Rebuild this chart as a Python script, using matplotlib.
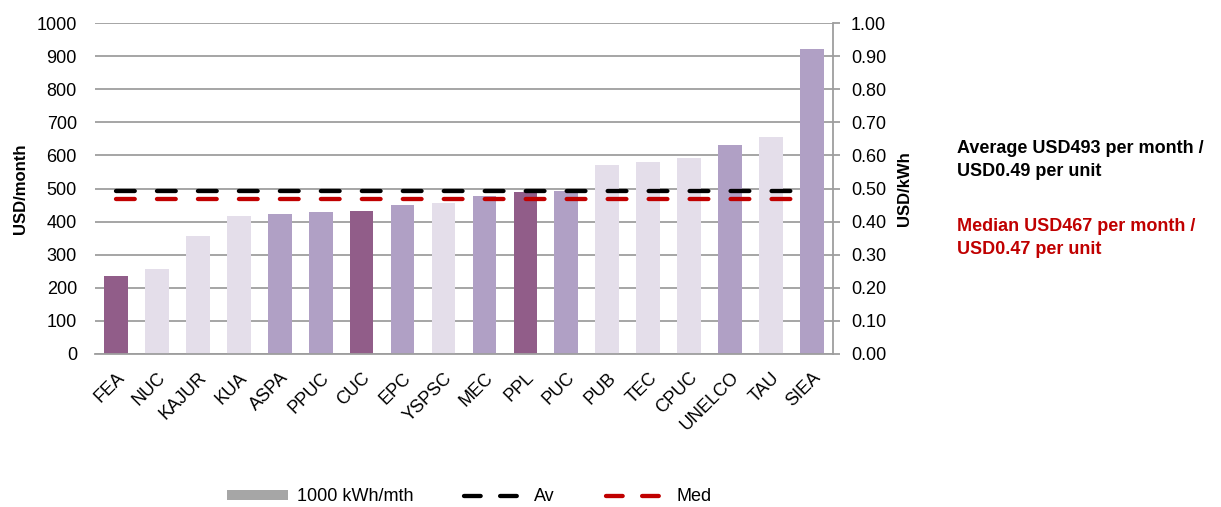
import matplotlib
matplotlib.use('agg')
import matplotlib.pyplot as plt
from matplotlib.patches import Patch
from matplotlib.lines import Line2D
import numpy as np

plt.rcParams['font.family'] = ['Liberation Sans Narrow', 'Liberation Sans', 'DejaVu Sans']
plt.rcParams['lines.scale_dashes'] = False

utilities = ['FEA', 'NUC', 'KAJUR', 'KUA', 'ASPA', 'PPUC', 'CUC', 'EPC', 'YSPSC',
             'MEC', 'PPL', 'PUC', 'PUB', 'TEC', 'CPUC', 'UNELCO', 'TAU', 'SIEA']
monthlyBill = [236, 258, 356, 417, 423, 429, 432, 450, 457,
               477, 489, 493, 571, 580, 592, 632, 656, 921]
# colour group of each utility (0 dark, 1 medium, 2 light)
shade = [0, 2, 2, 2, 1, 1, 0, 1, 2, 1, 0, 1, 2, 2, 2, 1, 2, 1]
avBill = 493
medBill = 467

shadeColors = ['#915D89', '#B0A0C5', '#E4DEEA']
gridGray = '#9E9E9E'

fig = plt.figure(figsize=(12.21, 5.07), dpi=100)
ax1 = fig.add_axes([0.0778, 0.3018, 0.6044, 0.6528])

x = np.arange(len(utilities))
ax1.bar(x, monthlyBill, width=0.58, color=[shadeColors[s] for s in shade], zorder=2)

avLine, = ax1.plot(x, [avBill] * len(x), color='black', lw=3.1,
                   ls=(0, (13.5, 16.0)), dash_capstyle='round', zorder=3)
medLine, = ax1.plot(x, [medBill] * len(x), color='#C00000', lw=3.1,
                    ls=(0, (13.5, 16.0)), dash_capstyle='round', zorder=3)

ax1.set_xlim(-0.51, 17.51)
ax1.set_ylim(0, 1000)
ax1.set_yticks(np.arange(0, 1001, 100))
ax1.yaxis.grid(True, color=gridGray, lw=1.3, zorder=0)
ax1.set_axisbelow(True)
ax1.tick_params(axis='y', length=0, labelsize=13, pad=13)
ax1.tick_params(axis='x', length=0, labelsize=13, pad=11)
ax1.set_xticks(x)
ax1.set_xticklabels(utilities, rotation=45, ha='right', rotation_mode='anchor')
ax1.set_ylabel('USD/month', fontsize=12, fontweight='bold', labelpad=6)

for side in ['top', 'left', 'right']:
    ax1.spines[side].set_visible(False)
ax1.spines['bottom'].set_color(gridGray)
ax1.spines['bottom'].set_linewidth(1.3)

ax2 = ax1.twinx()
ax2.set_ylim(0, 1.0)
ax2.set_yticks(np.arange(0, 1.01, 0.1))
ax2.set_yticklabels(['%.2f' % v for v in np.arange(0, 1.01, 0.1)])
ax2.tick_params(axis='y', labelsize=13, color=gridGray, length=5, width=1.3, pad=8)
for side in ['top', 'left', 'bottom']:
    ax2.spines[side].set_visible(False)
ax2.spines['right'].set_color(gridGray)
ax2.spines['right'].set_linewidth(1.3)
ax2.set_ylabel('USD/kWh', fontsize=12, fontweight='bold', labelpad=8)

fig.text(0.7838, 0.685, 'Average USD493 per month /\nUSD0.49 per unit', fontsize=13,
         fontweight='bold', color='black', va='center', linespacing=1.45)
fig.text(0.7838, 0.531, 'Median USD467 per month /\nUSD0.47 per unit', fontsize=13,
         fontweight='bold', color='#C00000', va='center', linespacing=1.45)

handles = [Patch(facecolor='#A6A6A6', edgecolor='none'),
           Line2D([], [], color='black', lw=3.1, ls=(0, (12, 14)), dash_capstyle='round'),
           Line2D([], [], color='#C00000', lw=3.1, ls=(0, (12, 14)), dash_capstyle='round')]
fig.legend(handles, ['1000 kWh/mth', 'Av', 'Med'], loc='center', ncol=3,
           bbox_to_anchor=(0.384, 0.02), frameon=False, fontsize=13,
           handlelength=3.4, handleheight=0.5, columnspacing=2.8, handletextpad=0.5)

fig.savefig('out.png', dpi=100)
